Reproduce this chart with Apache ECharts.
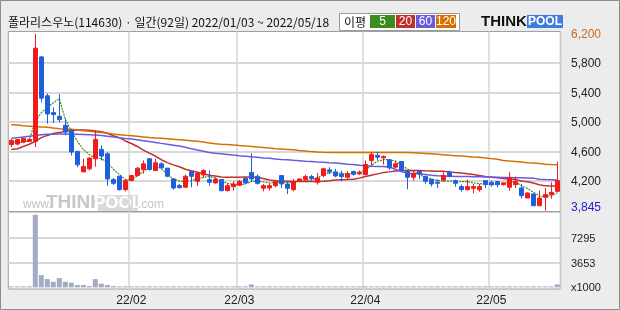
<!DOCTYPE html>
<html><head><meta charset="utf-8">
<script src="https://cdn.jsdelivr.net/npm/echarts@6/dist/echarts.min.js"></script>
<style>html,body{margin:0;padding:0;background:#ececec;}#c{width:620px;height:310px;}</style>
</head><body><div id="c"></div>
<script>
const title = '폴라리스우노(114630) · 일간(92일) 2022/01/03 ~ 2022/05/18';
const maLabel = '이평';
const maNames = ['5', '20', '60', '120'];
const dates = [
'2022-01-03','2022-01-04','2022-01-05','2022-01-06','2022-01-07','2022-01-10','2022-01-11','2022-01-12','2022-01-13','2022-01-14',
'2022-01-17','2022-01-18','2022-01-19','2022-01-20','2022-01-21','2022-01-24','2022-01-25','2022-01-26','2022-01-27','2022-01-28',
'2022-02-03','2022-02-04','2022-02-07','2022-02-08','2022-02-09','2022-02-10','2022-02-11','2022-02-14','2022-02-15','2022-02-16',
'2022-02-17','2022-02-18','2022-02-21','2022-02-22','2022-02-23','2022-02-24','2022-02-25','2022-02-28',
'2022-03-02','2022-03-03','2022-03-04','2022-03-07','2022-03-08','2022-03-10','2022-03-11','2022-03-14','2022-03-15','2022-03-16',
'2022-03-17','2022-03-18','2022-03-21','2022-03-22','2022-03-23','2022-03-24','2022-03-25','2022-03-28','2022-03-29','2022-03-30','2022-03-31',
'2022-04-01','2022-04-04','2022-04-05','2022-04-06','2022-04-07','2022-04-08','2022-04-11','2022-04-12','2022-04-13','2022-04-14',
'2022-04-15','2022-04-18','2022-04-19','2022-04-20','2022-04-21','2022-04-22','2022-04-25','2022-04-26','2022-04-27','2022-04-28','2022-04-29',
'2022-05-02','2022-05-03','2022-05-04','2022-05-06','2022-05-09','2022-05-10','2022-05-11','2022-05-12','2022-05-13','2022-05-16','2022-05-17','2022-05-18'];
const opens = [4694,4703,4730,4739,4739,5886,5358,5130,5080,4958,4889,4603,4325,4366,4503,4630,4571,4220,4266,4084,
4207,4275,4357,4502,4343,4434,4375,4229,4140,4116,4330,4197,4284,4220,4175,4220,4070,4125,
4143,4239,4316,4266,4102,4107,4138,4275,4161,4084,4197,4220,4261,4184,4275,4352,4325,4293,4252,4330,4298,
4289,4480,4548,4516,4489,4389,4466,4330,4252,4330,4261,4220,4184,4216,4320,4207,4125,4084,4102,4084,4207,
4184,4193,4152,4116,4152,4107,3970,4025,3865,3979,4016,4061];
const closes = [4753,4766,4780,4766,6004,5326,5112,5103,5035,4866,4594,4421,4398,4512,4766,4539,4229,4170,4084,4207,
4275,4375,4434,4357,4448,4380,4266,4107,4110,4266,4266,4307,4343,4184,4220,4070,4138,4161,
4197,4175,4229,4170,4138,4138,4193,4161,4102,4193,4229,4261,4234,4243,4366,4325,4270,4261,4298,4293,4320,
4425,4562,4525,4534,4380,4434,4343,4252,4298,4298,4197,4161,4170,4275,4266,4170,4084,4125,4125,4125,4152,
4152,4152,4175,4243,4193,4002,4038,3865,3970,4016,4047,4207];
const lows = [4662,4685,4720,4730,4662,5267,4980,4990,4995,4821,4548,4389,4320,4343,4398,4480,4138,4150,4070,4061,
4200,4265,4300,4343,4340,4370,4252,4084,4100,4110,4116,4138,4250,4138,4165,4061,4061,4070,
4140,4160,4184,4152,4061,4070,4115,4107,4025,4060,4190,4200,4205,4152,4252,4298,4252,4198,4230,4275,4284,
4275,4412,4489,4425,4352,4380,4330,4088,4207,4230,4162,4125,4107,4193,4252,4125,4056,4070,4034,4056,4107,
4125,4115,4140,4070,4107,3965,3970,3865,3865,3800,3960,4050];
const highs = [4771,4775,4790,4790,6200,5900,5390,5200,5380,5049,4903,4610,4503,4525,4889,4685,4594,4240,4270,4230,
4285,4390,4480,4510,4502,4457,4380,4235,4160,4290,4335,4320,4360,4343,4250,4225,4165,4197,
4215,4250,4580,4290,4160,4170,4200,4280,4170,4230,4232,4290,4285,4311,4380,4388,4366,4343,4334,4343,4343,
4480,4594,4594,4548,4490,4480,4470,4343,4334,4343,4275,4230,4220,4320,4343,4220,4152,4220,4161,4161,4207,
4207,4193,4180,4320,4261,4161,4047,4034,4070,4107,4184,4466];
const volumes = [150,150,150,150,10700,1807,1224,830,1370,830,690,350,350,200,1224,540,350,200,150,150,
150,150,150,150,150,150,150,150,150,150,150,150,150,150,150,150,150,150,
150,150,450,150,150,150,150,150,150,150,150,150,150,150,150,150,150,150,150,150,150,
150,150,150,150,150,150,150,150,150,150,150,150,150,150,150,150,150,150,150,150,150,
150,150,150,150,150,150,150,150,150,150,150,450];
const ma5 = [4720,4735,4720,4760,5014,5128,5198,5262,5316,5040,4880,4740,4630,4560,4510,4505,4450,4360,4290,4225,
4210,4270,4330,4385,4410,4370,4290,4230,4200,4193,4207,4229,4250,4262,4240,4200,4170,4152,
4152,4161,4195,4198,4190,4175,4182,4190,4180,4190,4198,4205,4215,4240,4290,4310,4310,4305,4300,4300,4310,
4348,4410,4470,4490,4492,4470,4420,4365,4330,4290,4250,4230,4210,4200,4200,4197,4193,4193,4175,4165,4160,
4152,4155,4165,4190,4190,4140,4100,4050,4000,3990,4000,4040];
const ma20 = [4630,4640,4670,4700,4740,4790,4820,4845,4860,4875,4885,4893,4893,4890,4880,4870,4850,4815,4790,4745,
4710,4670,4620,4580,4540,4490,4450,4420,4395,4360,4340,4320,4300,4280,4270,4255,4252,4252,
4252,4255,4255,4250,4235,4215,4205,4200,4198,4195,4195,4195,4195,4195,4198,4205,4215,4218,4220,4225,4240,
4261,4278,4298,4315,4325,4338,4343,4345,4345,4343,4340,4338,4335,4332,4325,4315,4310,4300,4290,4275,4262,
4252,4245,4235,4229,4222,4200,4190,4175,4150,4135,4134,4134];
const ma60 = [4780,4790,4800,4810,4820,4828,4835,4837,4838,4838,4838,4836,4834,4830,4825,4818,4808,4798,4788,4778,
4770,4760,4748,4736,4725,4712,4700,4688,4676,4660,4640,4622,4605,4588,4578,4570,4562,4553,
4545,4538,4530,4523,4515,4510,4500,4494,4489,4482,4476,4470,4465,4460,4456,4450,4445,4438,4430,4425,4415,
4408,4400,4398,4398,4390,4360,4330,4310,4300,4298,4290,4280,4272,4268,4265,4262,4262,4261,4260,4258,4256,
4254,4252,4250,4248,4246,4245,4243,4240,4225,4220,4218,4216];
const ma120 = [4965,4960,4950,4945,4940,4935,4930,4920,4912,4905,4903,4895,4885,4875,4866,4858,4848,4838,4830,4822,
4815,4808,4800,4792,4786,4780,4774,4768,4762,4755,4748,4740,4730,4717,4708,4700,4696,4690,
4682,4678,4670,4662,4655,4648,4640,4635,4630,4625,4615,4608,4600,4594,4590,4589,4589,4589,4589,4589,4589,
4589,4589,4589,4589,4589,4589,4589,4589,4585,4580,4575,4570,4565,4558,4550,4545,4540,4535,4528,4522,4515,
4505,4495,4480,4472,4465,4458,4450,4445,4438,4430,4425,4421];
const priceGridValues = [4200,4600,5000,5400,5800];
const priceLabelValues = [3845,4200,4600,5000,5400,5800,6200];
const volGridValues = [3653,7295];
const volLabelValues = [0,3653,7295];
const volUnitLabel = 'x1000';

const UP = '#f01c1c', DOWN = '#1f5fdc';
const maColors = ['#3c8c1e', '#c0302a', '#6a5ae0', '#d96e00'];
const FONT = '"Liberation Sans", Arial, sans-serif';
const KFONT = '"Noto Sans CJK KR", "Noto Sans", sans-serif';
const GRID_COLOR = '#d6d6d6';
const PRICE_MIN = 3787, PRICE_MAX = 6231, VOL_MIN = -235, VOL_MAX = 11088;
const isMonthStart = i => i > 0 && dates[i].slice(5, 7) !== dates[i - 1].slice(5, 7);
const pMax = Math.max(...priceLabelValues), pMin = Math.min(...priceLabelValues);

const chart = echarts.init(document.getElementById('c'), null, {renderer: 'canvas'});
const xBase = {
  type: 'category', data: dates, boundaryGap: true,
  axisLine: {show: false}, axisTick: {show: false},
  splitLine: {show: true, interval: (i) => isMonthStart(i), lineStyle: {color: GRID_COLOR, width: 1.5}}
};

const legendCells = [[370, 25], [396, 19], [416, 19], [436, 20]];
const graphics = [
  {type: 'rect', shape: {x: 0.5, y: 0.5, width: 619, height: 309}, style: {fill: 'none', stroke: '#8c8c8c', lineWidth: 1}},
  {type: 'text', x: 23, y: 205, style: {text: 'www.', fill: '#c4c4c4', font: '12px ' + FONT, verticalAlign: 'middle'}},
  {type: 'text', x: 46, y: 203, style: {text: 'THINK', fill: '#c8c8c8', font: 'bold 19px ' + FONT, verticalAlign: 'middle'}},
  {type: 'rect', shape: {x: 98, y: 195, width: 40, height: 16}, style: {fill: '#dadada'}},
  {type: 'text', x: 118, y: 203, style: {text: 'POOL', fill: '#fff', font: 'bold 17px ' + FONT, align: 'center', verticalAlign: 'middle'}},
  {type: 'text', x: 138, y: 205, style: {text: '.com', fill: '#c4c4c4', font: '12px ' + FONT, verticalAlign: 'middle'}},
  {type: 'text', x: 8, y: 22, style: {text: title, fill: '#111', font: '12px ' + KFONT, verticalAlign: 'middle'}},
  {type: 'rect', shape: {x: 339.5, y: 13.5, width: 120, height: 17}, style: {fill: '#fff', stroke: '#9a9a9a', lineWidth: 1}},
  {type: 'text', x: 344, y: 22, style: {text: maLabel, fill: '#111', font: '12px ' + KFONT, verticalAlign: 'middle'}},
  {type: 'text', x: 481, y: 22, style: {text: 'THINK', fill: '#111', font: 'bold 15px ' + FONT, verticalAlign: 'middle'}},
  {type: 'rect', shape: {x: 527, y: 15, width: 36, height: 13}, style: {fill: '#3f7be0'}},
  {type: 'text', x: 545, y: 22, style: {text: 'POOL', fill: '#fff', font: 'bold 12px ' + FONT, align: 'center', verticalAlign: 'middle'}}
];
maNames.forEach((n, k) => {
  const [x, w] = legendCells[k];
  graphics.push({type: 'rect', shape: {x: x, y: 15, width: w, height: 13}, style: {fill: maColors[k]}});
  graphics.push({type: 'text', x: x + w / 2, y: 22, style: {text: n, fill: '#fff', font: '12px ' + FONT, align: 'center', verticalAlign: 'middle'}});
});

const maSeries = [ma5, ma20, ma60, ma120].map((d, k) => ({
  type: 'line', xAxisIndex: 0, yAxisIndex: 0, data: d, symbol: 'none', silent: true, z: 3,
  lineStyle: {color: maColors[k], width: k === 0 ? 1.2 : 1.5, type: k === 0 ? [2, 1] : 'solid'}
}));
const panel = {show: true, backgroundColor: '#fff', borderColor: '#a0a0a0', borderWidth: 1};

chart.setOption({
  animation: false,
  backgroundColor: 'transparent',
  graphic: {z: 1, elements: graphics},
  grid: [
    Object.assign({left: 8.3, width: 552, top: 31.5, height: 180}, panel),
    Object.assign({left: 8.3, width: 552, top: 212, height: 77}, panel)
  ],
  xAxis: [
    Object.assign({}, xBase, {gridIndex: 0, axisLabel: {show: false}}),
    Object.assign({}, xBase, {gridIndex: 1, axisLabel: {
      show: true, interval: (i) => isMonthStart(i), margin: 6,
      color: '#222', fontFamily: FONT, fontSize: 12,
      formatter: (v) => v.slice(2, 4) + '/' + v.slice(5, 7)
    }})
  ],
  yAxis: [
    {type: 'value', gridIndex: 0, position: 'right', min: PRICE_MIN, max: PRICE_MAX,
     axisLine: {show: false}, axisTick: {show: false}, splitLine: {show: false}, axisLabel: {show: false}},
    {type: 'value', gridIndex: 1, position: 'right', min: VOL_MIN, max: VOL_MAX,
     axisLine: {show: false}, axisTick: {show: false}, splitLine: {show: false}, axisLabel: {show: false}}
  ],
  series: [
    {type: 'candlestick', xAxisIndex: 0, yAxisIndex: 0, z: 5, barWidth: 5, silent: true,
     data: dates.map((d, i) => [opens[i], closes[i], lows[i], highs[i]]),
     itemStyle: {color: UP, color0: DOWN, borderColor: UP, borderColor0: DOWN, borderWidth: 1}},
    ...maSeries,
    {type: 'bar', xAxisIndex: 1, yAxisIndex: 1, data: volumes, barWidth: 5, silent: true, z: 4,
     itemStyle: {color: '#a3abc5'}}
  ]
});

// grid lines and value labels placed through the library's own y scales
const extra = [];
let errText = '';
const yPix = (axisIdx, v) => {
  let p = chart.convertToPixel({yAxisIndex: axisIdx}, v);
  if (Array.isArray(p)) p = p[1];
  if (!isFinite(p)) p = chart.convertToPixel({gridIndex: axisIdx}, [0, v])[1];
  return p;
};
try {
  [[0, priceGridValues], [1, volGridValues]].forEach(([axisIdx, vals]) => {
    vals.forEach(v => {
      const y = Math.round(yPix(axisIdx, v));
      extra.push({type: 'rect', shape: {x: 8.5, y: y - 0.75, width: 552, height: 1.5}, style: {fill: GRID_COLOR}});
    });
  });
  priceLabelValues.forEach(v => {
    const s = v.toLocaleString('en-US');
    const col = v === pMax ? '#cc6a1a' : v === pMin ? '#1c1ccc' : '#222';
    extra.push({type: 'text', x: 571, y: Math.round(yPix(0, v)) + 1,
      style: {text: s, fill: col, font: '12px ' + FONT, verticalAlign: 'middle'}});
  });
  volLabelValues.forEach(v => {
    extra.push({type: 'text', x: 571, y: Math.round(yPix(1, v)) + 0.5,
      style: {text: v === 0 ? volUnitLabel : String(v), fill: '#222', font: '11px ' + FONT, verticalAlign: 'middle'}});
  });
} catch (e) { errText = String(e); }
if (errText) extra.push({type: 'text', x: 10, y: 100, style: {text: errText, fill: '#f00', font: '10px sans-serif'}});
chart.setOption({graphic: {z: 1, elements: graphics.concat(extra)}});

// additional grid-line axes: one split line per grid value, spanning each panel
try {
  const gl = (vals, axisIdx) => {
    const top = Math.round(yPix(axisIdx, Math.max(...vals)));
    const bottom = Math.round(yPix(axisIdx, Math.min(...vals)));
    return {top, height: bottom - top, n: vals.length - 1};
  };
  const g2 = gl(priceGridValues, 0), g3 = gl(volGridValues, 1);
  const gridAxisY = (gi, n) => ({type: 'value', gridIndex: gi, min: 0, max: n, interval: 1, z: 1,
    axisLine: {show: false}, axisTick: {show: false}, axisLabel: {show: false},
    splitLine: {show: true, lineStyle: {color: GRID_COLOR, width: 1.5}}});
  const gridAxisX = (gi) => ({type: 'value', gridIndex: gi, min: 0, max: 1, show: false});
  chart.setOption({
    grid: [{}, {},
      {left: 8.3, width: 552, top: g2.top, height: g2.height, show: false},
      {left: 8.3, width: 552, top: g3.top, height: g3.height, show: false}],
    xAxis: [{}, {}, gridAxisX(2), gridAxisX(3)],
    yAxis: [{}, {}, gridAxisY(2, g2.n), gridAxisY(3, g3.n)]
  });
} catch (e) {}
</script></body></html>
